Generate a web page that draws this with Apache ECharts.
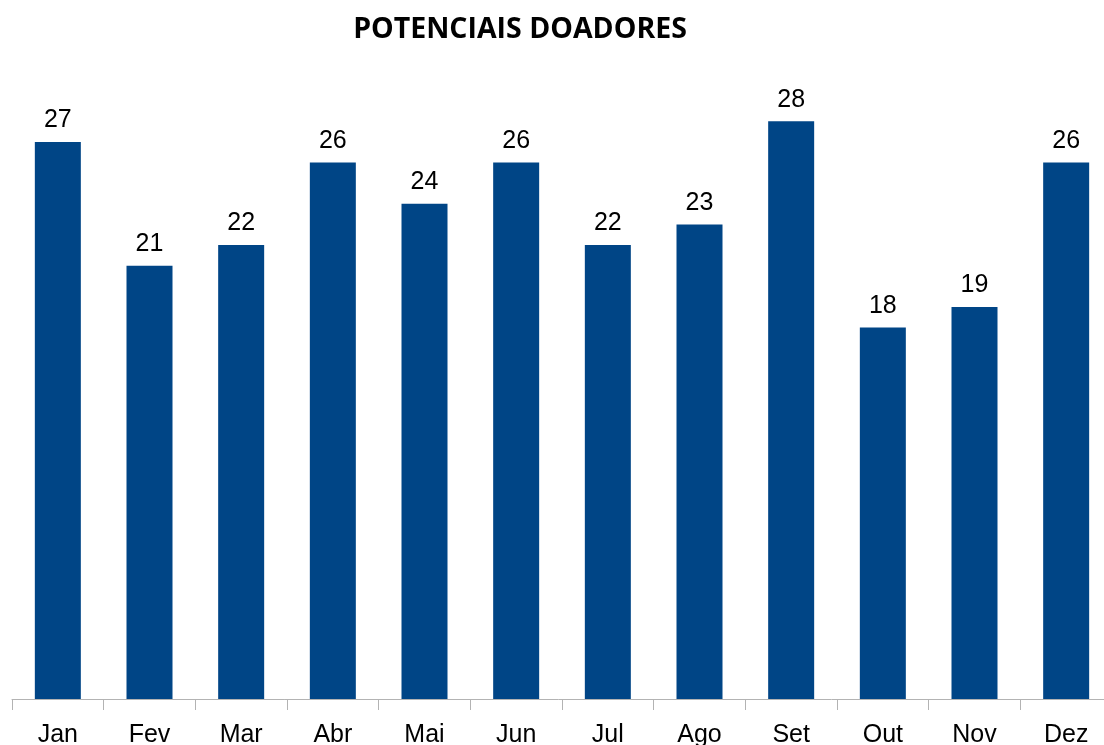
<!DOCTYPE html>
<html>
<head>
<meta charset="utf-8">
<script src="https://cdn.jsdelivr.net/npm/echarts@6/dist/echarts.min.js"></script>
<style>
  html, body { margin: 0; padding: 0; background: #fff; }
  #chart { width: 1104px; height: 745px; }
</style>
</head>
<body>
<div id="chart"></div>
<script>
var months = ['Jan', 'Fev', 'Mar', 'Abr', 'Mai', 'Jun', 'Jul', 'Ago', 'Set', 'Out', 'Nov', 'Dez'];
var doadores = [27, 21, 22, 26, 24, 26, 22, 23, 28, 18, 19, 26];

var chart = echarts.init(document.getElementById('chart'));

var option = {
    animation: false,
    title: {
        text: 'POTENCIAIS DOADORES',
        left: 515,
        top: 10,
        textAlign: 'center',
        textStyle: {
            fontFamily: 'Open Sans',
            fontWeight: 'bold',
            fontSize: 28.5,
            color: '#000'
        }
    },
    grid: {
        left: 12,
        width: 1100,
        top: 80,
        bottom: 46,
        outerBoundsMode: 'none'
    },
    xAxis: {
        type: 'category',
        data: months,
        axisLine: { lineStyle: { color: '#b3b3b3', width: 1 } },
        axisTick: { show: true, length: 11, lineStyle: { color: '#b3b3b3' } },
        axisLabel: {
            color: '#000',
            fontFamily: 'Liberation Sans',
            fontSize: 25,
            margin: 24
        }
    },
    yAxis: {
        type: 'value',
        min: 0,
        max: 30,
        show: false
    },
    series: [{
        type: 'bar',
        data: doadores,
        barWidth: 46,
        itemStyle: { color: '#004586' },
        label: {
            show: true,
            position: 'top',
            distance: 9,
            color: '#000',
            fontFamily: 'Liberation Sans',
            fontSize: 25
        }
    }]
};

chart.setOption(option);
</script>
</body>
</html>
